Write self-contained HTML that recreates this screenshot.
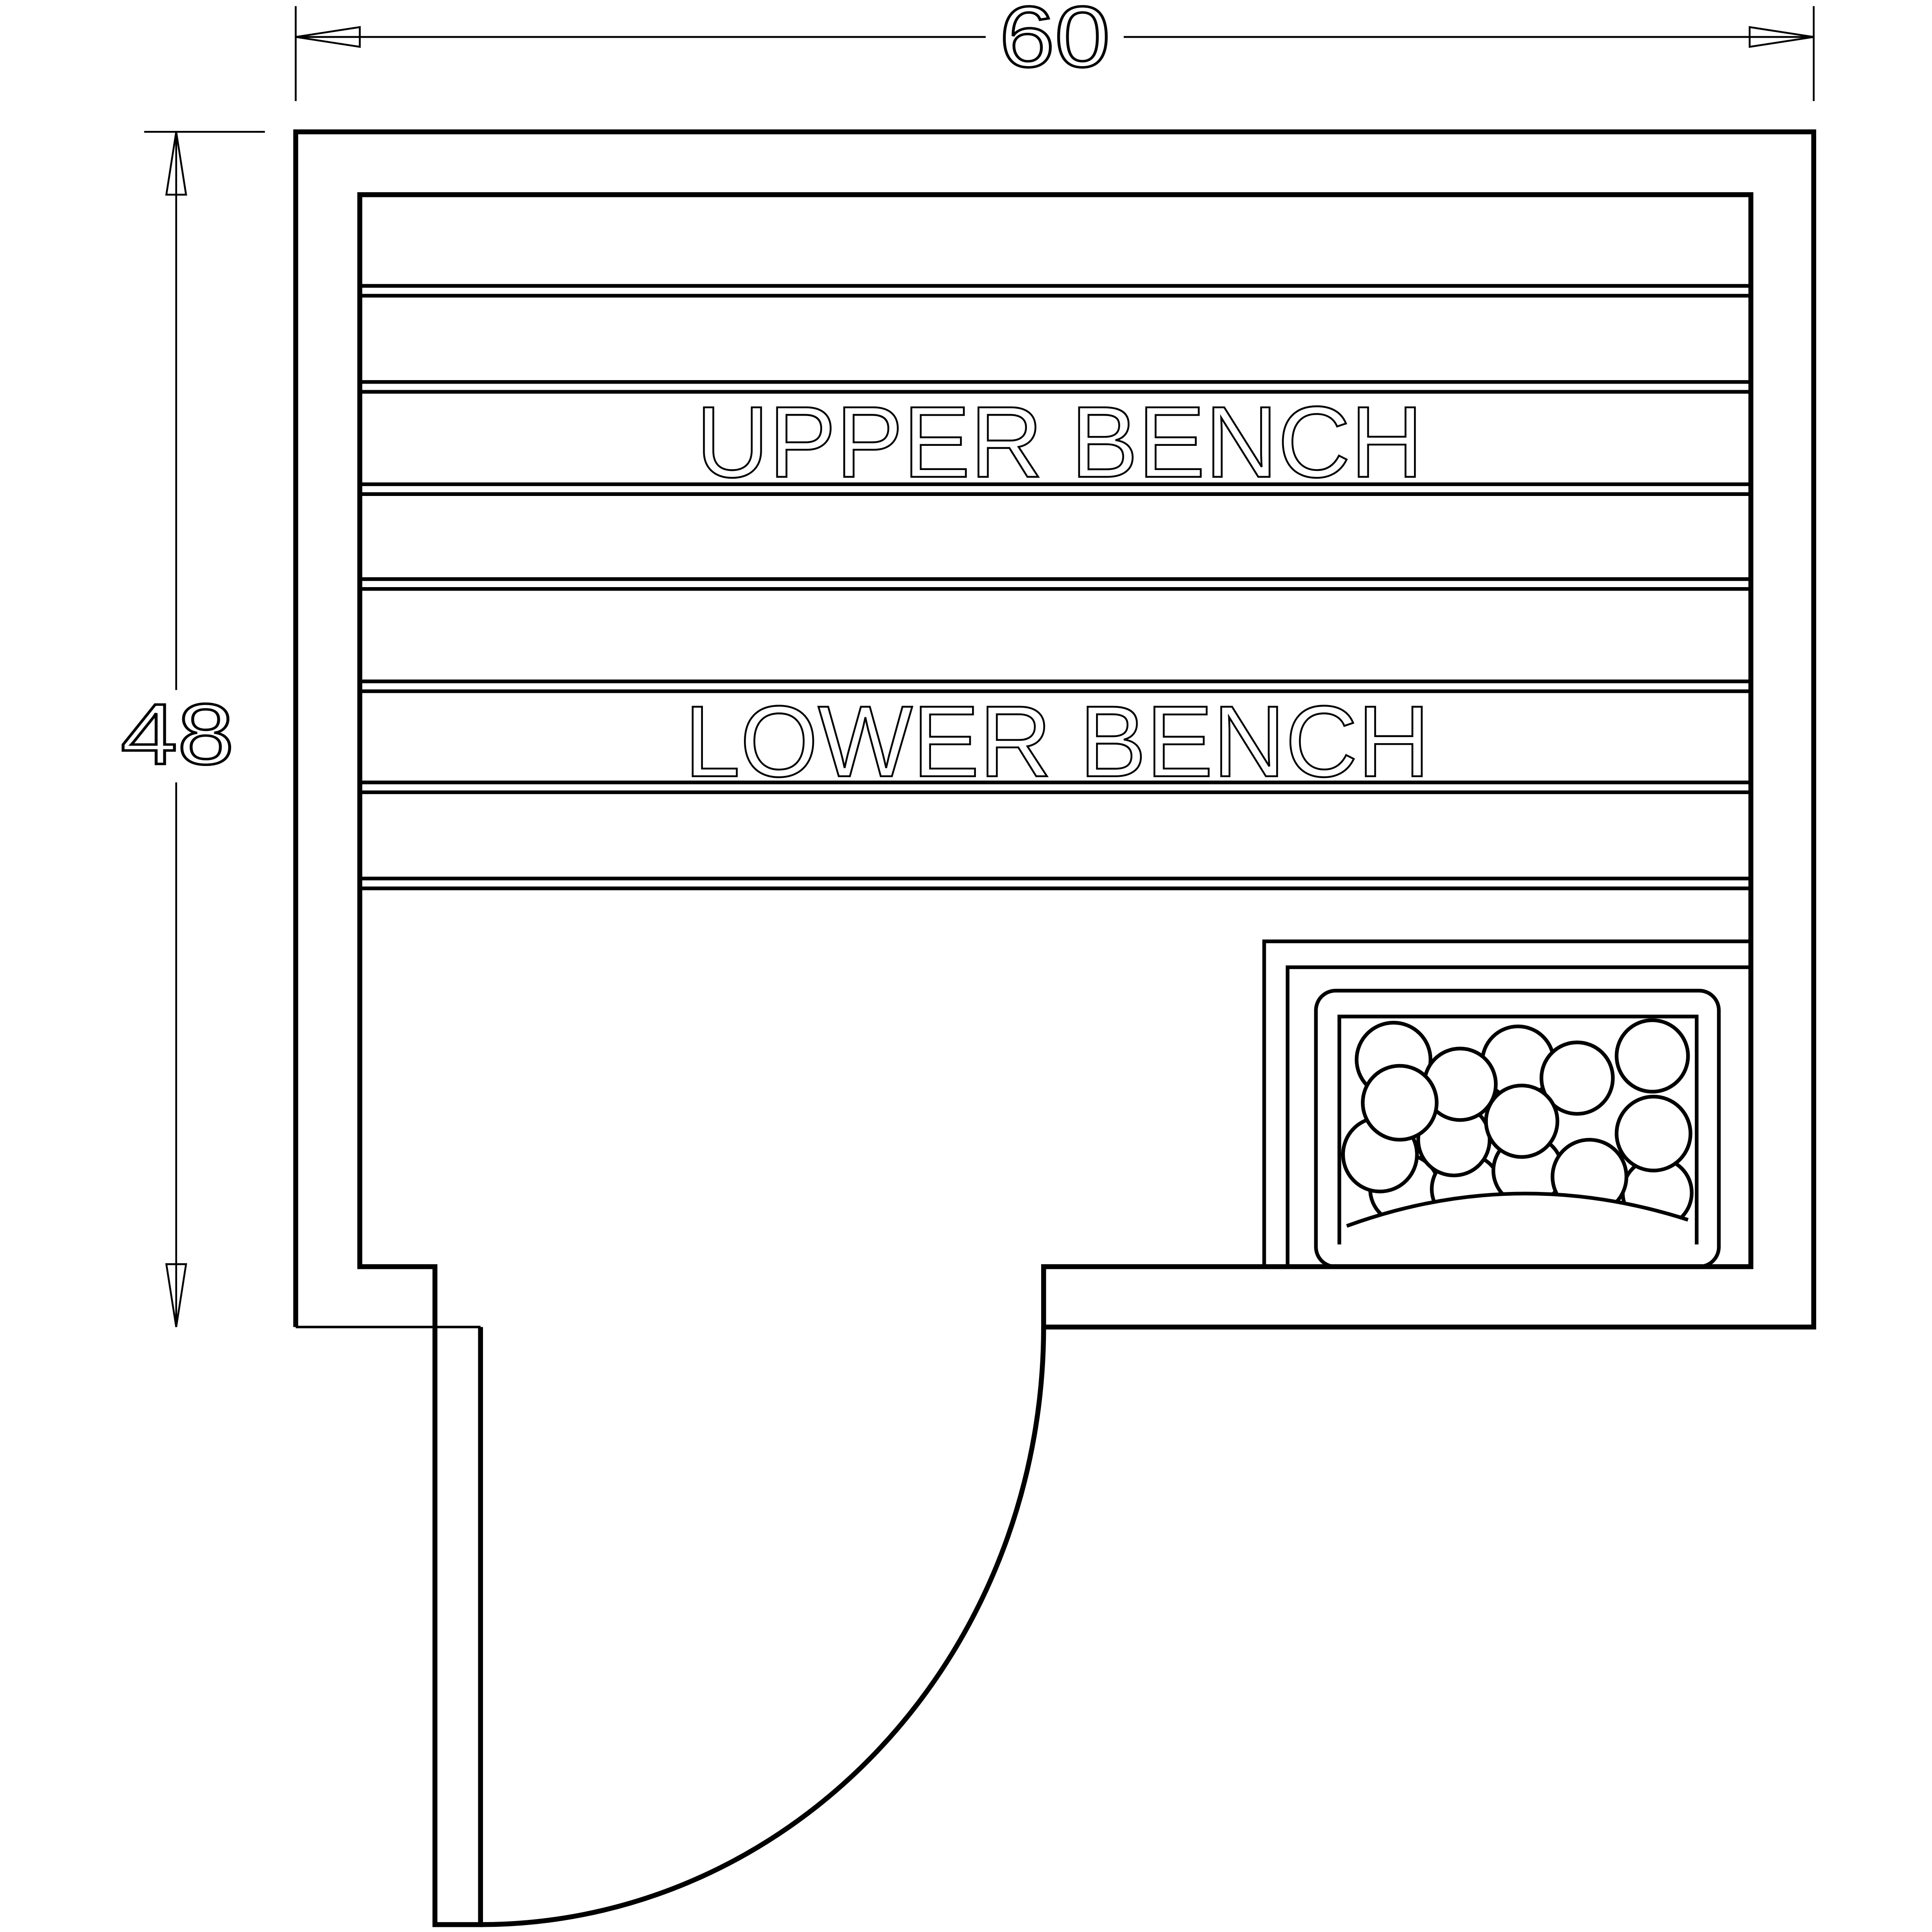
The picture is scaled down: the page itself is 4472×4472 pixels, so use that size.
<!DOCTYPE html>
<html><head><style>html,body{margin:0;padding:0;background:#fff}svg{display:block}</style></head>
<body>
<svg width="4472" height="4472" viewBox="0 0 1568 1568" xmlns="http://www.w3.org/2000/svg">
<rect width="1568" height="1568" fill="#fff"/>
<g stroke="#000" fill="none" stroke-width="1.5">
<line x1="240" y1="5" x2="240" y2="82"/>
<line x1="1472" y1="5" x2="1472" y2="82"/>
<line x1="240" y1="30" x2="800" y2="30"/>
<line x1="912" y1="30" x2="1472" y2="30"/>
<polygon points="240,30 292,22 292,38"/>
<polygon points="1472,30 1420,22 1420,38"/>
<line x1="117" y1="107" x2="215" y2="107"/>
<line x1="143" y1="107" x2="143" y2="560"/>
<line x1="143" y1="635" x2="143" y2="1077"/>
<polygon points="143,107 135,158 151,158"/>
<polygon points="143,1077 135,1026 151,1026"/>
</g>
<text x="856" y="54" font-family="Liberation Sans, sans-serif" font-size="70" text-anchor="middle" textLength="90" lengthAdjust="spacingAndGlyphs" fill="none" stroke="#000" stroke-width="2">60</text>
<text x="144" y="620" font-family="Liberation Sans, sans-serif" font-size="70" text-anchor="middle" textLength="92" lengthAdjust="spacingAndGlyphs" fill="none" stroke="#000" stroke-width="2">48</text>
<g stroke="#000" fill="none" stroke-width="4">
<polyline points="240,1077 240,107 1472,107 1472,1077 847,1077 847,1028 1421,1028 1421,158 292,158 292,1028 353,1028 353,1562 390,1562 390,1077"/>
<line x1="240" y1="1077" x2="390" y2="1077" stroke-width="2"/>
<path d="M847,1077 A457,485 0 0 1 390,1562"/>
</g>
<g stroke="#000" stroke-width="3">
<line x1="292" y1="232" x2="1421" y2="232"/><line x1="292" y1="240" x2="1421" y2="240"/>
<line x1="292" y1="310" x2="1421" y2="310"/><line x1="292" y1="318" x2="1421" y2="318"/>
<line x1="292" y1="393" x2="1421" y2="393"/><line x1="292" y1="401" x2="1421" y2="401"/>
<line x1="292" y1="470" x2="1421" y2="470"/><line x1="292" y1="478" x2="1421" y2="478"/>
<line x1="292" y1="553" x2="1421" y2="553"/><line x1="292" y1="561" x2="1421" y2="561"/>
<line x1="292" y1="635" x2="1421" y2="635"/><line x1="292" y1="643" x2="1421" y2="643"/>
<line x1="292" y1="713" x2="1421" y2="713"/><line x1="292" y1="721" x2="1421" y2="721"/>
</g>
<text x="860" y="387" font-family="Liberation Sans, sans-serif" font-size="82" text-anchor="middle" textLength="590" lengthAdjust="spacingAndGlyphs" fill="none" stroke="#000" stroke-width="1.5">UPPER  BENCH</text>
<text x="858" y="630" font-family="Liberation Sans, sans-serif" font-size="82" text-anchor="middle" textLength="605" lengthAdjust="spacingAndGlyphs" fill="none" stroke="#000" stroke-width="1.5">LOWER  BENCH</text>
<g stroke="#000" fill="none" stroke-width="3">
<polyline points="1026,1028 1026,764 1421,764"/>
<polyline points="1045,1028 1045,785 1421,785"/>
<rect x="1068" y="804" width="327" height="224" rx="16"/>
<polyline points="1087,1010 1087,825 1377,825 1377,1010"/>
</g>
<g stroke="#000" fill="#fff" stroke-width="3">
<circle cx="1345" cy="968" r="28"/><circle cx="1140" cy="965" r="28"/><circle cx="1190" cy="965" r="28"/><circle cx="1240" cy="950" r="28"/>
<circle cx="1120" cy="937" r="30"/><circle cx="1180" cy="925" r="29"/><circle cx="1290" cy="955" r="30"/>
<circle cx="1131" cy="860" r="30"/><circle cx="1232" cy="862" r="29"/><circle cx="1280" cy="875" r="29"/><circle cx="1341" cy="857" r="29"/>
<circle cx="1185" cy="880" r="29"/><circle cx="1235" cy="910" r="29"/><circle cx="1136" cy="895" r="30"/><circle cx="1342" cy="920" r="30"/>
</g>
<path d="M1093,995 Q1230,945 1370,990 L1370,1010 L1093,1010Z" fill="#fff"/>
<path d="M1093,995 Q1230,945 1370,990" stroke="#000" fill="none" stroke-width="3"/>
</svg>
</body></html>
